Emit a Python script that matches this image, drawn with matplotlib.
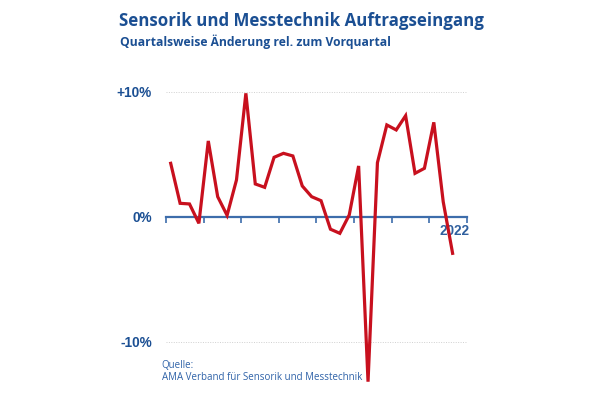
import matplotlib
matplotlib.use("Agg")
import matplotlib.pyplot as plt
import matplotlib.transforms as mtrans
import numpy as np

# Data: quarterly change vs previous quarter (%)
quarters = np.arange(31)
values = [4.27, 1.07, 1.02, -0.53, 6.06, 1.6, 0.11, 2.94, 9.87, 2.62,
          2.35, 4.75, 5.07, 4.86, 2.46, 1.6, 1.28, -1.0, -1.33, 0.14,
          4.06, -13.2, 4.32, 7.34, 6.94, 8.08, 3.47, 3.87, 7.55, 1.2,
          -2.93]
year_ticks = [0, 4, 8, 12, 16, 20, 24, 28, 32]
year_labels = ["", "", "", "", "", "", "", "", "2022"]
y_ticks = [-10, 0, 10]
y_labels = ["-10%", "0%", "+10%"]

title_col = "#1b4f93"
axis_col = "#3d6dab"
red = "#c8101e"

fig = plt.figure(figsize=(6, 3.95), dpi=100)
W, H = 600, 395
ax = fig.add_axes([166 / W, 1 - 386.7 / H, 300.7 / W, (386.7 - 79.2) / H])

ax.plot(quarters + 0.5, values, color=red, lw=2.3, zorder=6, clip_on=False,
        solid_joinstyle="miter")

ax.set_xlim(0, 32)
ax.set_ylim(-13.6, 11)

for s in ["top", "right", "left"]:
    ax.spines[s].set_visible(False)
ax.spines["bottom"].set_position(("data", 0))
ax.spines["bottom"].set_color(axis_col)
ax.spines["bottom"].set_linewidth(1.6)
ax.spines["bottom"].set_zorder(3)

ax.set_xticks(year_ticks)
ax.set_xticklabels(year_labels, fontfamily="Liberation Sans", fontweight="bold",
                   fontsize=9.8, color="#2f5f9e", ha="right")
ax.tick_params(axis="x", direction="out", length=4, width=1.2, color=axis_col, pad=1)
offset = mtrans.ScaledTranslation(2 / 72, 0, fig.dpi_scale_trans)
for lab in ax.get_xticklabels():
    lab.set_transform(lab.get_transform() + offset)

ax.set_yticks(y_ticks)
ax.set_yticklabels(y_labels, fontfamily="Liberation Sans", fontweight="bold",
                   fontsize=9.8, color=title_col)
ax.tick_params(axis="y", length=0, pad=10)

for yv in [-10, 10]:
    ax.axhline(yv, color="#d0d0d0", lw=0.7, ls=(0, (1, 1.5)), zorder=1)

fig.text(119 / W, 1 - 25.5 / H, "Sensorik und Messtechnik Auftragseingang",
         fontfamily="Open Sans", fontweight="bold", fontsize=12.2, color=title_col,
         va="baseline", ha="left")
fig.text(119.5 / W, 1 - 46 / H, "Quartalsweise Änderung rel. zum Vorquartal",
         fontfamily="Open Sans", fontweight="bold", fontsize=8.7, color=title_col,
         va="baseline", ha="left")

fig.text(161.5 / W, 1 - 367.5 / H, "Quelle:", fontfamily="Open Sans",
         fontsize=7.0, color="#2f62a8", va="baseline", ha="left")
fig.text(161.5 / W, 1 - 380.5 / H, "AMA Verband für Sensorik und Messtechnik",
         fontfamily="Open Sans", fontsize=7.0, color="#2f62a8", va="baseline", ha="left")

fig.savefig("out.png", dpi=100, facecolor="white")
